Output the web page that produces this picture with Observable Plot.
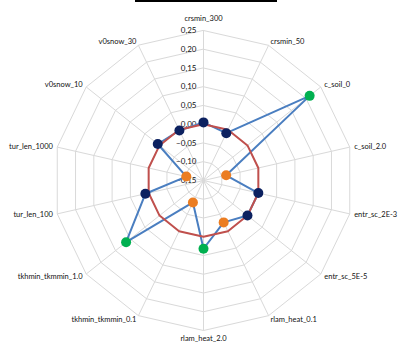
<!DOCTYPE html>
<html>
<head>
<meta charset="utf-8">
<script src="https://cdn.jsdelivr.net/npm/d3@7"></script>
<script src="https://cdn.jsdelivr.net/npm/@observablehq/plot@0.6"></script>
<style>
  html, body { margin: 0; padding: 0; background: #fff; }
  #wrap { position: relative; width: 399px; height: 347px; }
  #bar { position: absolute; left: 135px; top: 0; width: 142px; height: 2px; background: #000; }
  svg { display: block; }
</style>
</head>
<body>
<div id="wrap"><div id="bar"></div><div id="chart"></div></div>
<script>
// Radar axes, clockwise from the top
const axes = ["crsmin_300", "crsmin_50", "c_soil_0", "c_soil_2.0", "entr_sc_2E-3", "entr_sc_5E-5",
  "rlam_heat_0.1", "rlam_heat_2.0", "tkhmin_tkmmin_0.1", "tkhmin_tkmmin_1.0", "tur_len_100",
  "tur_len_1000", "v0snow_10", "v0snow_30"];
// Sensitivity per parameter setting
const sensitivity = [0.005, -0.010, 0.212, -0.088, 0.000, 0.000, -0.026, 0.032, -0.085, 0.114,
  0.009, -0.103, 0.006, -0.002];
// Reference run
const reference = [0, 0, 0, 0, 0, 0, 0, 0, 0, 0, 0, 0, 0, 0];
// Response class of each point (marker colour)
const response = ["neutral", "neutral", "high", "low", "neutral", "neutral", "low", "high", "low",
  "high", "neutral", "low", "neutral", "neutral"];
// Radial ticks
const tickValues = [-0.15, -0.10, -0.05, 0.00, 0.05, 0.10, 0.15, 0.20, 0.25];

const rMin = -0.15, rMax = 0.25;
const n = axes.length;
const angle = i => (i * 2 * Math.PI) / n;
const rad = v => v - rMin; // radius in value units from the centre
const px = 375;            // pixels per value unit
const polar = (i, v) => ({x: rad(v) * Math.sin(angle(i)), y: rad(v) * Math.cos(angle(i))});

const rings = tickValues.flatMap(t => axes.map((a, i) => ({ring: t, ...polar(i, t)})));
const spokes = axes.map((a, i) => ({x1: 0, y1: 0, x2: polar(i, rMax).x, y2: polar(i, rMax).y}));
const seriesA = axes.map((a, i) => ({axis: a, value: sensitivity[i], kind: response[i], ...polar(i, sensitivity[i])}));
const seriesB = axes.map((a, i) => ({axis: a, value: reference[i], ...polar(i, reference[i])}));

const pad = 4.5 / px;
const labels = axes.map((a, i) => {
  const s = Math.sin(angle(i)), c = Math.cos(angle(i));
  const anchor = Math.abs(s) < 0.1 ? "middle" : s > 0 ? "start" : "end";
  const r = rad(rMax) + (anchor === "middle" ? (c > 0 ? 11.5 : 8) / px : pad);
  return {label: a, anchor, x: r * s, y: r * c};
});

const fmt = d3.formatLocale({decimal: ",", thousands: ".", grouping: [3], currency: ["", ""]}).format(".2f");

const font = "Lato, 'Liberation Sans', sans-serif";
const tickStyle = {fontSize: 8, fill: "#111", fontFamily: font};
const labelStyle = {fontSize: 7.5, fill: "#111", fontFamily: font};

const chart = Plot.plot({
  width: 399,
  height: 347,
  margin: 0,
  style: {fontFamily: font, background: "#fff"},
  x: {domain: [-203 / px, 196 / px], range: [0, 399], axis: null},
  y: {domain: [-167 / px, 180 / px], range: [347, 0], axis: null},
  color: {domain: ["neutral", "low", "high"], range: ["#0c2160", "#eb7d22", "#00b050"]},
  marks: [
    Plot.line(rings, {x: "x", y: "y", z: "ring", curve: "linear-closed", stroke: "#d9d9d9", strokeWidth: 1}),
    Plot.link(spokes, {x1: "x1", y1: "y1", x2: "x2", y2: "y2", stroke: "#d9d9d9", strokeWidth: 1}),
    Plot.text(tickValues, {x: 0, y: t => rad(t), text: t => fmt(t), textAnchor: "end", dx: -7, ...tickStyle}),
    Plot.line(seriesA, {x: "x", y: "y", curve: "linear-closed", stroke: "#4a7ec0", strokeWidth: 2}),
    Plot.line(seriesB, {x: "x", y: "y", curve: "linear-closed", stroke: "#c0504d", strokeWidth: 2}),
    Plot.dot(seriesA, {x: "x", y: "y", r: 5, fill: "kind", stroke: "none"}),
    ...["start", "middle", "end"].map(anchor =>
      Plot.text(labels.filter(d => d.anchor === anchor), {x: "x", y: "y", text: "label", textAnchor: anchor, ...labelStyle})
    )
  ]
});
document.getElementById("chart").appendChild(chart);
</script>
</body>
</html>
